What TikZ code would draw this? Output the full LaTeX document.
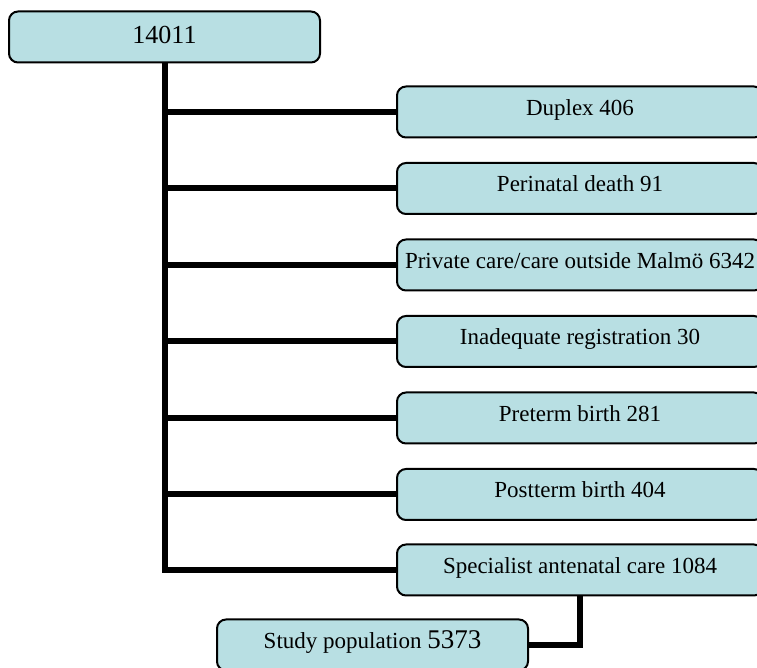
\documentclass[tikz,border=0pt]{standalone}
\usepackage{fontspec}
\setmainfont{Liberation Serif}
\definecolor{boxfill}{RGB}{184,223,227}
\tikzset{
  box/.style={draw, line width=1pt, rounded corners=4.5pt, fill=boxfill, rectangle,
    minimum height=25.5pt, text height=8pt, text depth=4.5pt,
    font=\fontsize{11.5}{13}\selectfont},
  leftbox/.style={box, minimum width=155.5pt},
  rightbox/.style={box, minimum width=183pt},
  link/.style={line width=3pt}
}
\begin{document}
\begin{tikzpicture}[x=0.5pt,y=-0.5pt]
\clip (0,0) rectangle (757,668);
\node[leftbox, text depth=1.5pt, font=\fontsize{13}{15}\selectfont] (a) at (164.5,37) {14011};
\node[rightbox] (b) at (580,112) {Duplex 406};
\node[rightbox] (c) at (580,188.5) {Perinatal death 91};
\node[rightbox] (d) at (580,265) {Private care/care outside Malmö 6342};
\node[rightbox] (e) at (580,341.5) {Inadequate registration 30};
\node[rightbox] (f) at (580,418) {Preterm birth 281};
\node[rightbox] (g) at (580,494.5) {Postterm birth 404};
\node[rightbox] (h) at (580,570) {Specialist antenatal care 1084};
\node[leftbox] (i) at (372.5,645) {Study population {\fontsize{13.5}{15}\selectfont 5373}};
\draw[link] (a.south) |- (h.west);
\foreach \n in {b,c,d,e,f,g}
  \draw[link] (a.south |- \n.west) -- (\n.west);
\draw[link] (h.south) |- (i.east);
\end{tikzpicture}
\end{document}
